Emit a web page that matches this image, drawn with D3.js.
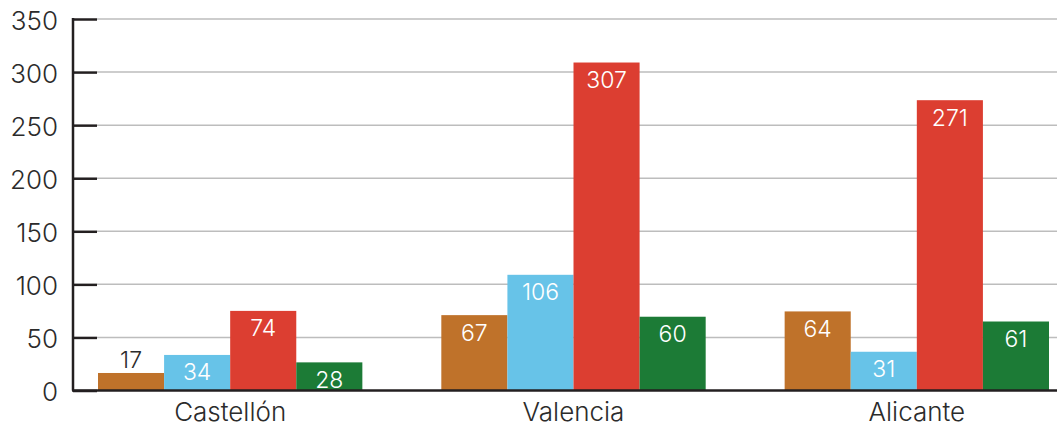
<!DOCTYPE html>
<html>
<head>
<meta charset="utf-8">
<script src="https://cdn.jsdelivr.net/npm/d3@7"></script>
<style>
  html, body { margin: 0; padding: 0; background: #fff; }
  svg { display: block; }
  text { font-family: "Inter", "Lato", sans-serif; font-weight: 300; fill: #2b2b2b; }
</style>
</head>
<body>
<svg id="chart" width="1057" height="426"></svg>
<script>
// Data
const categories = ["Castellón", "Valencia", "Alicante"];
const seriesNames = ["s1", "s2", "s3", "s4"];
// bar lengths as drawn
const s1Values = [16.5, 71, 74.5];
const s2Values = [33.5, 109, 36.5];
const s3Values = [75, 309, 273.5];
const s4Values = [26.5, 69.5, 65];
// printed labels
const s1Labels = ["17", "67", "64"];
const s2Labels = ["34", "106", "31"];
const s3Labels = ["74", "307", "271"];
const s4Labels = ["28", "60", "61"];
const yTicks = [0, 50, 100, 150, 200, 250, 300, 350];
const colors = ["#BF722A", "#67C3E8", "#DC3E31", "#1C7B36"];

const seriesValues = [s1Values, s2Values, s3Values, s4Values];
const seriesLabels = [s1Labels, s2Labels, s3Labels, s4Labels];

const svg = d3.select("#chart");
const axisX = 73, plotRight = 1057;

const y = d3.scaleLinear().domain([0, 350]).range([390.5, 19]);
const x0 = d3.scaleBand().domain(categories).range([98, 1049]).paddingInner(0.23).paddingOuter(0);
const x1 = d3.scaleBand().domain(seriesNames).range([0, x0.bandwidth()]).padding(0);

// gridlines
svg.append("g").selectAll("line").data(yTicks.filter(d => d > 0)).join("line")
  .attr("x1", axisX + 24).attr("x2", plotRight)
  .attr("y1", d => y(d)).attr("y2", d => y(d))
  .attr("stroke", "#bdbdbd").attr("stroke-width", 1.5);

// y axis
const yAxis = d3.axisRight(y).tickValues(yTicks).tickSize(24).tickFormat("");
const gy = svg.append("g").attr("transform", `translate(${axisX},0)`).call(yAxis);
gy.select(".domain").remove();
gy.selectAll(".tick line").attr("stroke", "#231f20").attr("stroke-width", 2.5);
svg.append("line").attr("x1", axisX).attr("x2", axisX).attr("y1", y(350) - 1).attr("y2", y(0))
  .attr("stroke", "#231f20").attr("stroke-width", 2.5);

// tick labels
svg.append("g").selectAll("text").data(yTicks).join("text")
  .attr("x", 58).attr("y", d => y(d)).attr("dy", "0.42em")
  .attr("text-anchor", "end").attr("font-size", 26)
  .text(d => d);

// bars
const data = [];
categories.forEach((c, i) => {
  seriesNames.forEach((s, j) => {
    data.push({cat: c, ser: s, j, v: seriesValues[j][i], label: seriesLabels[j][i]});
  });
});

const g = svg.append("g");
g.selectAll("rect").data(data).join("rect")
  .attr("x", d => x0(d.cat) + x1(d.ser))
  .attr("width", x1.bandwidth())
  .attr("y", d => y(d.v))
  .attr("height", d => y(0) - y(d.v))
  .attr("fill", d => colors[d.j]);

const inside = d => (y(0) - y(d.v)) >= 24;
g.selectAll("text").data(data).join("text")
  .attr("x", d => x0(d.cat) + x1(d.ser) + x1.bandwidth() / 2)
  .attr("y", d => inside(d) ? y(d.v) + 25.5 : y(d.v) - 5)
  .attr("text-anchor", "middle").attr("font-size", 23)
  .style("fill", d => inside(d) ? "#ffffff" : "#2b2b2b")
  .text(d => d.label);

// baseline
svg.append("line").attr("x1", axisX - 1).attr("x2", plotRight).attr("y1", y(0)).attr("y2", y(0))
  .attr("stroke", "#231f20").attr("stroke-width", 2.5);

// category labels
svg.append("g").selectAll("text").data(categories).join("text")
  .attr("x", d => x0(d) + x0.bandwidth() / 2).attr("y", 421)
  .attr("text-anchor", "middle").attr("font-size", 26)
  .text(d => d);
</script>
</body>
</html>
